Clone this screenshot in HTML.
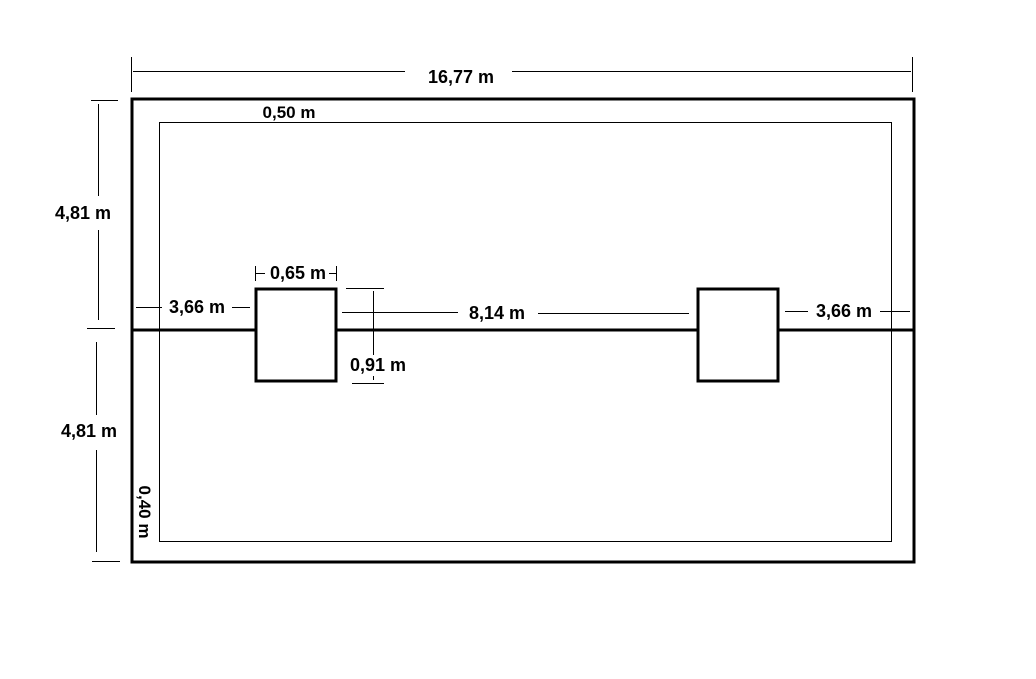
<!DOCTYPE html>
<html><head><meta charset="utf-8"><style>
html,body{margin:0;padding:0;background:#fff;}
svg{display:block;}
text{font-family:"Liberation Sans",sans-serif;font-weight:bold;fill:#000;}
</style></head><body>
<svg width="1036" height="679" viewBox="0 0 1036 679" xmlns="http://www.w3.org/2000/svg">
<rect x="0" y="0" width="1036" height="679" fill="#fff"/>
<rect x="132" y="99" width="782" height="463" fill="none" stroke="#000" stroke-width="3"/>
<rect x="159.5" y="122.5" width="732" height="419" fill="none" stroke="#000" stroke-width="1"/>
<line x1="132" y1="330" x2="914" y2="330" stroke="#000" stroke-width="3"/>
<rect x="256" y="289" width="80" height="92" fill="#fff" stroke="#000" stroke-width="3"/>
<rect x="698" y="289" width="80" height="92" fill="#fff" stroke="#000" stroke-width="3"/>
<g stroke="#000" stroke-width="1">
<line x1="131.5" y1="57" x2="131.5" y2="92"/>
<line x1="912.5" y1="57" x2="912.5" y2="92"/>
<line x1="133" y1="71.5" x2="405" y2="71.5"/>
<line x1="512" y1="71.5" x2="911" y2="71.5"/>
<line x1="91" y1="100.5" x2="118" y2="100.5"/>
<line x1="98.5" y1="104" x2="98.5" y2="196"/>
<line x1="98.5" y1="230" x2="98.5" y2="320"/>
<line x1="87" y1="328.5" x2="115" y2="328.5"/>
<line x1="96.5" y1="342" x2="96.5" y2="415"/>
<line x1="96.5" y1="450" x2="96.5" y2="552"/>
<line x1="92" y1="561.5" x2="120" y2="561.5"/>
<line x1="136" y1="307.5" x2="162" y2="307.5"/>
<line x1="232" y1="307.5" x2="250" y2="307.5"/>
<line x1="255.5" y1="266" x2="255.5" y2="281"/>
<line x1="336.5" y1="266" x2="336.5" y2="281"/>
<line x1="256" y1="273.5" x2="265" y2="273.5"/>
<line x1="329" y1="273.5" x2="336" y2="273.5"/>
<line x1="346" y1="288.5" x2="384" y2="288.5"/>
<line x1="373.5" y1="291" x2="373.5" y2="355"/>
<line x1="373.5" y1="376" x2="373.5" y2="380"/>
<line x1="352" y1="383.5" x2="384" y2="383.5"/>
<line x1="342" y1="312.5" x2="458" y2="312.5"/>
<line x1="538" y1="313.5" x2="689" y2="313.5"/>
<line x1="785" y1="311.5" x2="808" y2="311.5"/>
<line x1="880" y1="311.5" x2="910" y2="311.5"/>
</g>
<text x="461" y="83" font-size="18" text-anchor="middle">16,77 m</text>
<text x="289" y="118" font-size="17" text-anchor="middle">0,50 m</text>
<text x="83" y="219" font-size="18" text-anchor="middle">4,81 m</text>
<text x="89" y="437" font-size="18" text-anchor="middle">4,81 m</text>
<text x="197" y="313" font-size="18" text-anchor="middle">3,66 m</text>
<text x="298" y="279" font-size="18" text-anchor="middle">0,65 m</text>
<text x="378" y="371" font-size="18" text-anchor="middle">0,91 m</text>
<text x="497" y="319" font-size="18" text-anchor="middle">8,14 m</text>
<text x="844" y="317" font-size="18" text-anchor="middle">3,66 m</text>
<text x="0" y="0" font-size="17" text-anchor="middle" transform="translate(139,512) rotate(90)">0,40 m</text>
</svg>
</body></html>
